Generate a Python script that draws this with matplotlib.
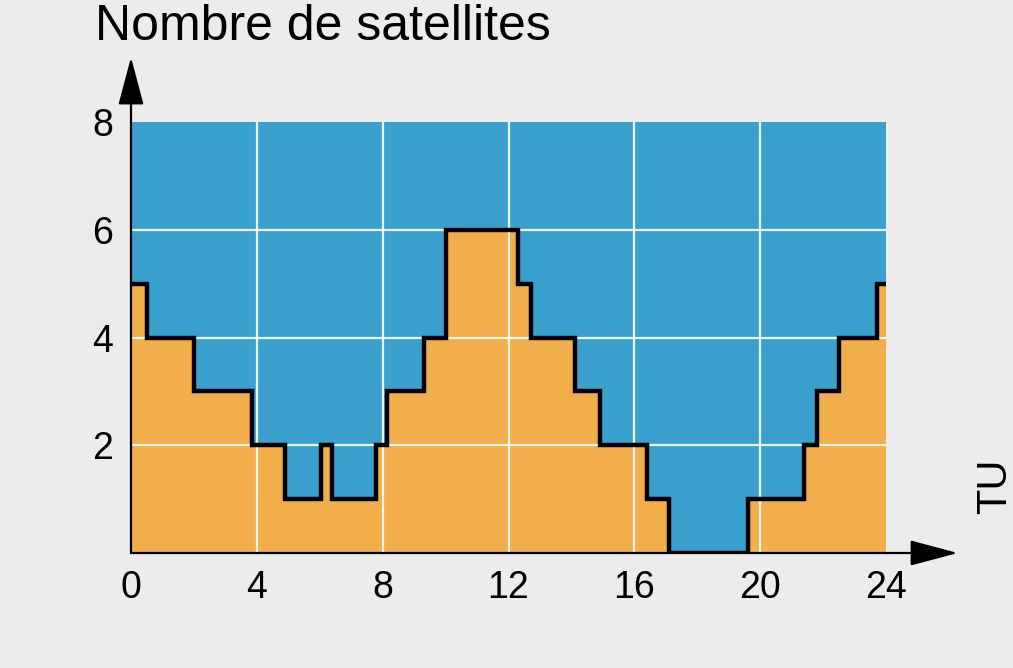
import matplotlib.pyplot as plt

# step edges (hours UT) and number of satellites visible in each interval
edges = [0, 0.5, 2, 3.85, 4.9, 6.05, 6.4, 7.8, 8.15, 9.3, 10, 12.3, 12.7,
         14.1, 14.9, 16.4, 17.1, 19.6, 21.4, 21.8, 22.5, 23.7, 24]
n_sat = [5, 4, 3, 2, 1, 2, 1, 2, 3, 4, 6, 5, 4, 3, 2, 1, 0, 1, 2, 3, 4, 5]

x_ticks = [0, 4, 8, 12, 16, 20, 24]
y_ticks = [2, 4, 6, 8]

blue = "#3aa1cf"
orange = "#f1ae4a"
paper = "#ececec"

plt.rcParams["font.family"] = ["Liberation Sans", "DejaVu Sans"]

fig = plt.figure(figsize=(10.13, 6.68), dpi=100, facecolor=paper)
ax = fig.add_axes([131 / 1013, 1 - 553 / 668, 755 / 1013, 431 / 668])
ax.set_facecolor(blue)
ax.set_xlim(0, 24)
ax.set_ylim(0, 8)

ax.stairs(n_sat, edges, fill=True, color=orange, zorder=1)
for x in x_ticks[1:-1]:
    ax.axvline(x, color="white", lw=1.6, alpha=0.9, zorder=2)
for y in y_ticks[:-1]:
    ax.axhline(y, color="white", lw=1.6, alpha=0.9, zorder=2)
ax.stairs(n_sat, edges, baseline=None, color="black", lw=3.2, zorder=3)

for s in ax.spines.values():
    s.set_visible(False)

ax.set_xticks(x_ticks)
ax.set_yticks(y_ticks)
ax.tick_params(length=0, labelsize=27)
ax.tick_params(axis="x", pad=12)
ax.tick_params(axis="y", pad=13)

# axis arrows
arrow = dict(arrowstyle="-|>,head_length=1.5,head_width=0.4", lw=1.6,
             color="black", shrinkA=0, shrinkB=0, mutation_scale=20)
ax.annotate("", xy=(1.095, 0), xytext=(0, 0), xycoords="axes fraction",
            textcoords="axes fraction", arrowprops=arrow, annotation_clip=False)
ax.annotate("", xy=(0, 1.15), xytext=(0, 0), xycoords="axes fraction",
            textcoords="axes fraction", arrowprops=arrow, annotation_clip=False)

fig.text(95 / 1013, 1 - 40 / 668, "Nombre de satellites", fontsize=36,
         va="baseline", ha="left")
fig.text(975 / 1013, 1 - 486 / 668, "TU", fontsize=30, rotation=90,
         va="center", ha="left")

fig.savefig("out.png", dpi=100, facecolor=paper)
